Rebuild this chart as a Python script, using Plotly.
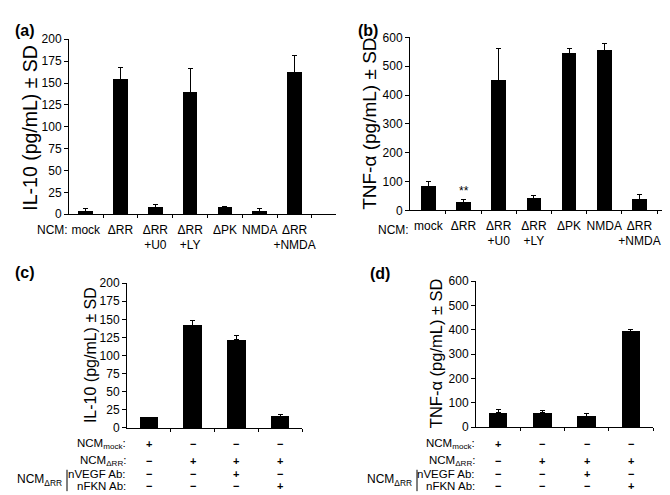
import plotly.graph_objects as go

# ---------------- data ----------------
a_labels = ["mock", "ΔRR", "ΔRR<br>+U0", "ΔRR<br>+LY", "ΔPK", "NMDA", "ΔRR<br>+NMDA"]
a_vals = [3.4, 154, 7.8, 139, 7.5, 3.3, 162]
a_err = [3, 14, 3, 28, 1.5, 3, 19]

b_labels = ["mock", "ΔRR", "ΔRR<br>+U0", "ΔRR<br>+LY", "ΔPK", "NMDA", "ΔRR<br>+NMDA"]
b_vals = [82, 27, 452, 40, 543, 554, 39]
b_err = [19, 10, 109, 13, 17, 24, 15]

c_vals = [14.3, 142, 121.7, 15.7]
c_err = [0.7, 6.5, 5.8, 3.3]

d_vals = [58.7, 58.7, 44, 394.7]
d_err = [12, 11.3, 10.7, 8]

table_rows = ["NCM<sub>mock</sub>:", "NCM<sub>ΔRR</sub>:", "nVEGF Ab:", "nFKN Ab:"]
table_signs = [["+", "−", "−", "−"],
               ["−", "+", "+", "+"],
               ["−", "−", "+", "−"],
               ["−", "−", "−", "+"]]

FONT = "Liberation Sans, Arial, sans-serif"
W, H = 670, 495


def px_x(p):
    return p / W


def px_y(p):
    return 1 - p / H


fig = go.Figure()


def add_bars(vals, errs, xa, ya):
    fig.add_trace(go.Bar(
        x=list(range(len(vals))), y=vals, xaxis=xa, yaxis=ya,
        marker=dict(color="black", line=dict(width=0)), width=0.42,
        error_y=dict(type="data", array=errs, arrayminus=[0] * len(vals),
                     symmetric=False, color="black", thickness=1, width=2.5),
        showlegend=False, hoverinfo="skip"))


add_bars(a_vals, a_err, "x", "y")
add_bars(b_vals, b_err, "x2", "y2")
add_bars(c_vals, c_err, "x3", "y3")
add_bars(d_vals, d_err, "x4", "y4")

tickfont = dict(family=FONT, size=12, color="black")

yax_common = dict(showline=True, linecolor="black", linewidth=1, ticks="outside",
                  ticklen=4, tickcolor="black", showgrid=False, zeroline=False,
                  tickfont=tickfont)


def xax(domain, rng, n, anchor, labels=None):
    d = dict(domain=domain, range=rng, anchor=anchor, showline=True, linecolor="black",
             linewidth=1, showgrid=False, zeroline=False, tickfont=tickfont,
             tickvals=list(range(n)), ticks="", tickangle=0, automargin=False,
             minor=dict(tickvals=[i + 0.5 for i in range(n)], ticks="outside",
                        ticklen=3, tickcolor="black"))
    if labels is None:
        d["showticklabels"] = False
    else:
        d["ticktext"] = labels
        d["ticklabelstandoff"] = 4
    return d


fig.update_layout(
    width=W, height=H, margin=dict(l=0, r=0, t=0, b=0),
    paper_bgcolor="white", plot_bgcolor="white",
    font=dict(family=FONT, color="black"),
    bargap=0,
    xaxis=xax([px_x(61), px_x(328)], [-0.48, 7.19], 7, "y", a_labels),
    yaxis=dict(domain=[px_y(205), px_y(25)], range=[0, 200], tickvals=list(range(0, 201, 25)),
               anchor="x", **yax_common),
    xaxis2=xax([px_x(402), px_x(660)], [-0.52, 6.81], 7, "y2", b_labels),
    yaxis2=dict(domain=[px_y(201), px_y(23)], range=[0, 600], tickvals=list(range(0, 601, 100)),
                anchor="x2", **yax_common),
    xaxis3=xax([px_x(119), px_x(294)], [-0.5, 3.5], 4, "y3"),
    yaxis3=dict(domain=[px_y(425), px_y(276)], range=[0, 200], tickvals=list(range(0, 201, 25)),
                anchor="x3", **yax_common),
    xaxis4=xax([px_x(468), px_x(645)], [-0.5, 3.5], 4, "y4"),
    yaxis4=dict(domain=[px_y(424), px_y(274)], range=[0, 600], tickvals=list(range(0, 601, 100)),
                anchor="x4", **yax_common),
)

ann = []
# panel letters
for txt, x, y in [("(a)", 5, 16), ("(b)", 348, 16), ("(c)", 5, 265), ("(d)", 360, 266)]:
    ann.append(dict(text="<b>%s</b>" % txt, x=px_x(x), y=px_y(y), xref="paper", yref="paper",
                    xanchor="left", yanchor="middle", showarrow=False,
                    font=dict(family=FONT, size=16, color="black")))

# y-axis titles
for txt, x, y, size in [("IL-10 (pg/mL) ± SD", 22, 116, 19.5),
                        ("TNF-α (pg/mL) ± SD", 362, 112, 19),
                        ("IL-10 (pg/mL) ± SD", 82, 350, 16),
                        ("TNF-α (pg/mL) ± SD", 428, 348, 16.5)]:
    ann.append(dict(text=txt, x=px_x(x), y=px_y(y), xref="paper", yref="paper",
                    xanchor="center", yanchor="middle", textangle=-90, showarrow=False,
                    font=dict(family=FONT, size=size, color="black")))

# "NCM:" prefixes
for x in (62, 403):
    ann.append(dict(text="NCM:", x=px_x(x), y=px_y(221), xref="paper", yref="paper",
                    xanchor="right", yanchor="middle", showarrow=False,
                    font=dict(family=FONT, size=12, color="black")))

# significance mark
ann.append(dict(text="**", x=1, y=b_vals[1] + b_err[1], xref="x2", yref="y2",
                xanchor="center", yanchor="bottom", yshift=0, showarrow=False,
                font=dict(family=FONT, size=12, color="black")))

# condition tables for (c) and (d)
row_y = [442, 459, 472, 485]
for xa, axis_px, grp_right, bar_px in [("x3", 119, 56, 59), ("x4", 468, 406, 409)]:
    for r, (lab, signs) in enumerate(zip(table_rows, table_signs)):
        ann.append(dict(text=lab, x=px_x(axis_px + 0.5), y=px_y(row_y[r]), xref="paper", yref="paper",
                        xanchor="right", yanchor="middle", showarrow=False,
                        font=dict(family=FONT, size=11.5, color="black")))
        for c, s in enumerate(signs):
            ann.append(dict(text="<b>%s</b>" % s, x=c, y=px_y(row_y[r]), xref=xa, yref="paper",
                            xanchor="center", yanchor="middle", showarrow=False,
                            font=dict(family=FONT, size=11, color="black")))
    ann.append(dict(text="NCM<sub>ΔRR</sub>", x=px_x(grp_right), y=px_y(479), xref="paper",
                    yref="paper", xanchor="right", yanchor="middle", showarrow=False,
                    font=dict(family=FONT, size=12, color="black")))
    fig.add_shape(type="line", xref="paper", yref="paper",
                  x0=px_x(bar_px), x1=px_x(bar_px), y0=px_y(468), y1=px_y(490),
                  line=dict(color="black", width=1))

fig.update_layout(annotations=ann)
fig.write_html("out.html")
